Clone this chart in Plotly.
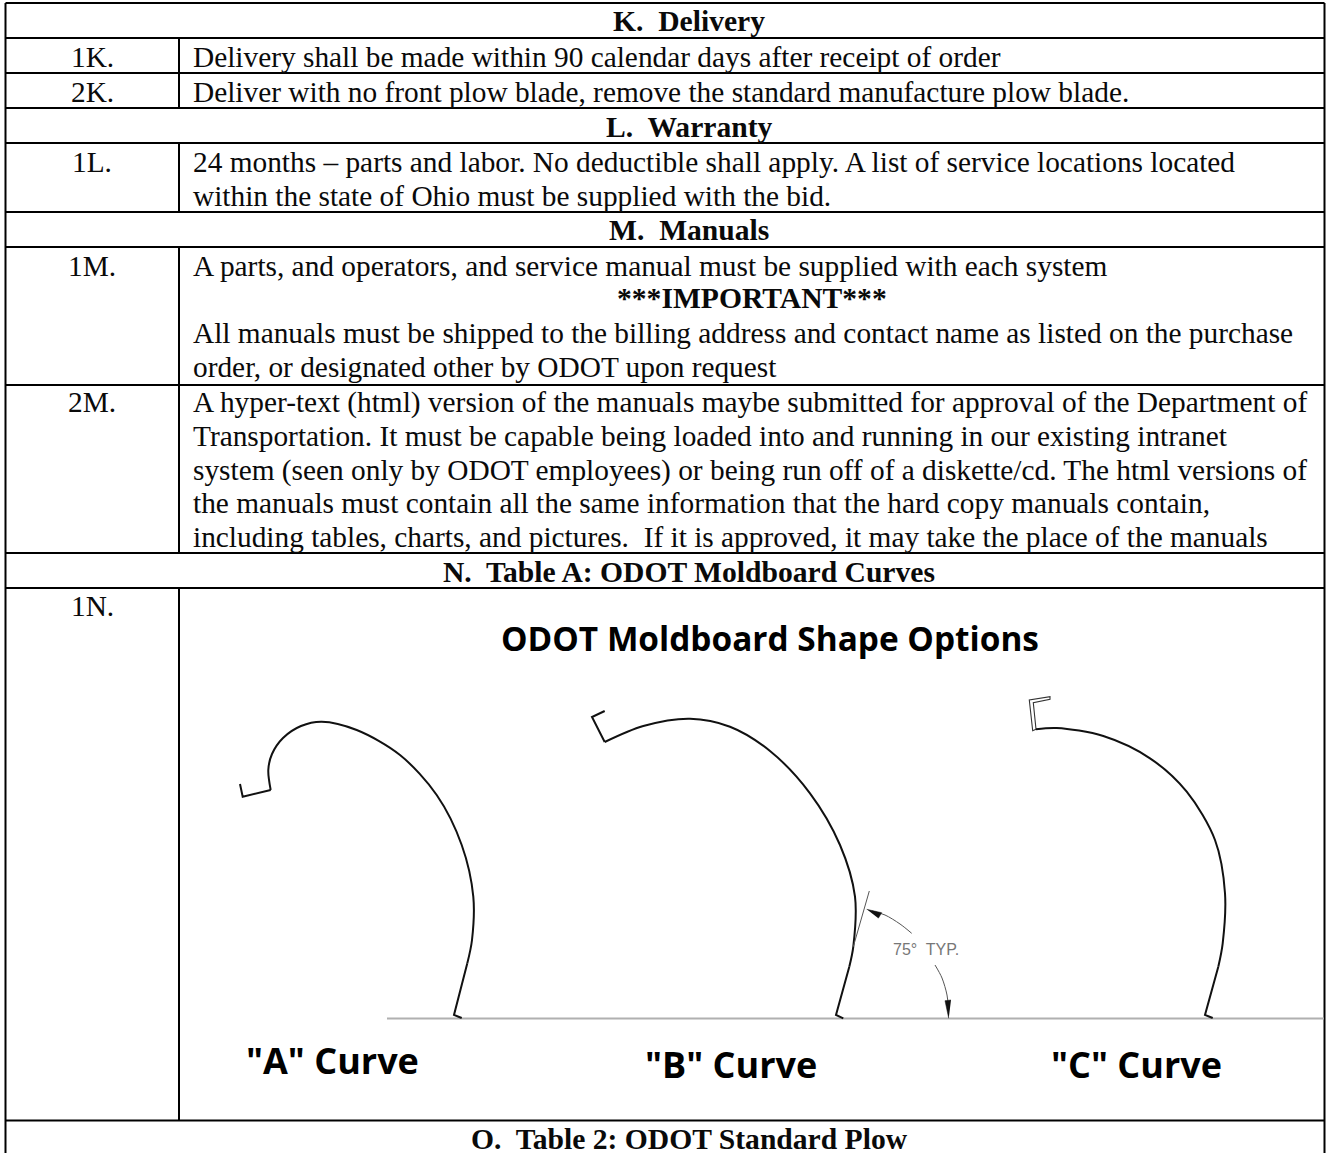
import plotly.graph_objects as go

# ---- table text -------------------------------------------------------
heading_texts = ["K.  Delivery", "L.  Warranty", "M.  Manuals",
                 "N.  Table A: ODOT Moldboard Curves", "O.  Table 2: ODOT Standard Plow"]
heading_y = [21, 127, 230, 572, 1139]

number_texts = ["1K.", "2K.", "1L.", "1M.", "2M.", "1N."]
number_y = [57, 92, 162, 266, 402, 606]

body_texts = [
    "Delivery shall be made within 90 calendar days after receipt of order",
    "Deliver with no front plow blade, remove the standard manufacture plow blade.",
    "24 months \u2013 parts and labor. No deductible shall apply. A list of service locations located",
    "within the state of Ohio must be supplied with the bid.",
    "A parts, and operators, and service manual must be supplied with each system",
    "All manuals must be shipped to the billing address and contact name as listed on the purchase",
    "order, or designated other by ODOT upon request",
    "A hyper-text (html) version of the manuals maybe submitted for approval of the Department of",
    "Transportation. It must be capable being loaded into and running in our existing intranet",
    "system (seen only by ODOT employees) or being run off of a diskette/cd. The html versions of",
    "the manuals must contain all the same information that the hard copy manuals contain,",
    "including tables, charts, and pictures.  If it is approved, it may take the place of the manuals",
]
body_y = [57, 92, 162, 196, 266, 333, 367, 402, 436, 470, 503, 537]
important_text = "***IMPORTANT***"

# ---- table rules ------------------------------------------------------
h_rule_y = [3, 38, 73, 108, 143, 212, 247, 385, 553, 588, 1120.5]
col_rule_spans = [(38, 108), (143, 212), (247, 553), (588, 1120.5)]
left_edge, col_edge, right_edge, bottom = 5.5, 179, 1324.5, 1153

# ---- moldboard drawing -------------------------------------------------
title_text = "ODOT Moldboard Shape Options"
curve_labels = ['"A" Curve', '"B" Curve', '"C" Curve']
curve_label_x = [245, 644, 1050]
curve_label_y = [1060, 1064, 1064]

a_hook_x = [240, 242.7, 270.7]
a_hook_y = [784, 796.7, 790]
a_curve_x = [270.7, 268.3, 272, 283, 301, 321.7, 356.7, 400, 436.7, 461.7, 473.3, 472, 467.3]
a_curve_y = [790, 770, 754, 738, 726, 721.7, 730, 755, 795, 845, 896.7, 940, 963.3]
a_foot_x = [467.3, 454, 461.7]
a_foot_y = [963.3, 1015, 1018]

b_hook_x = [604.7, 592, 604.7]
b_hook_y = [711, 717, 742]
b_curve_x = [604.7, 643.3, 690, 730, 770, 810, 840, 855, 853.3, 849.3]
b_curve_y = [742, 726, 718.7, 726.7, 751, 793.3, 845, 896.7, 946.7, 966.7]
b_foot_x = [849.3, 836, 843.3]
b_foot_y = [966.7, 1015, 1018.3]

c_hook_x = [1036, 1033.3, 1050, 1050, 1029.3, 1032.7, 1036]
c_hook_y = [729.3, 702.7, 699.3, 696.7, 700, 730.7, 729.3]
c_curve_x = [1036, 1056.7, 1103.3, 1150, 1186.7, 1215, 1225, 1222.7, 1218.3]
c_curve_y = [729.3, 728, 736, 758.3, 791.7, 840, 893.3, 943.3, 966.7]
c_foot_x = [1218.3, 1205, 1212.7]
c_foot_y = [966.7, 1015, 1018]

ground_x = [387, 1324]
ground_y = [1018.5, 1018.5]

tangent_x = [869.3, 853.3]
tangent_y = [891, 946.7]
leader1_x = [911.7, 900, 885, 872]
leader1_y = [933.3, 924, 915, 911]
leader2_x = [935, 942, 947, 948.7]
leader2_y = [965, 978, 995, 1010]
head1_x = [866.7, 881.7, 878.3]
head1_y = [909.3, 912.7, 918.3]
head2_x = [948.7, 945, 951]
head2_y = [1018.3, 1000.7, 1000]
dim_text = "75\u00b0  TYP."

SERIF = "Liberation Serif"
SANS = "Open Sans"
TEXT = "#0a0a0a"
BODY_SIZE = 29.35
BOLD_SIZE = 29.6

fig = go.Figure()


def line(x, y, color="#000000", width=2.0, spline=False):
    fig.add_trace(go.Scatter(
        x=x, y=y, mode="lines", hoverinfo="skip",
        line=dict(color=color, width=width, shape="spline" if spline else "linear",
                  smoothing=0.9 if spline else None)))


for yv in h_rule_y:
    line([left_edge, right_edge], [yv, yv], "#000000", 2)
line([left_edge, left_edge], [h_rule_y[0], bottom], "#000000", 2)
line([right_edge, right_edge], [h_rule_y[0], bottom], "#000000", 2)
for a, b in col_rule_spans:
    line([col_edge, col_edge], [a, b], "#000000", 2)

line(ground_x, ground_y, "#b0b0b0", 2)
for hx, hy, cx, cy, fx, fy in [
    (a_hook_x, a_hook_y, a_curve_x, a_curve_y, a_foot_x, a_foot_y),
    (b_hook_x, b_hook_y, b_curve_x, b_curve_y, b_foot_x, b_foot_y),
]:
    line(hx, hy, "#111111", 2)
    line(cx, cy, "#111111", 2, spline=True)
    line(fx, fy, "#111111", 2)
line(c_hook_x, c_hook_y, "#333333", 1.1)
line(c_curve_x, c_curve_y, "#111111", 2, spline=True)
line(c_foot_x, c_foot_y, "#111111", 2)

line(tangent_x, tangent_y, "#555555", 1)
line(leader1_x, leader1_y, "#555555", 1, spline=True)
line(leader2_x, leader2_y, "#555555", 1, spline=True)
for hx, hy in [(head1_x, head1_y), (head2_x, head2_y)]:
    fig.add_trace(go.Scatter(x=hx, y=hy, mode="lines", fill="toself", fillcolor="#111111",
                             line=dict(color="#111111", width=0.5), hoverinfo="skip"))

annotations = []


def note(x, y, text, size, family=SERIF, anchor="left", bold=False, color=TEXT):
    annotations.append(dict(
        x=x, y=y, xref="x", yref="y", text=f"<b>{text}</b>" if bold else text,
        showarrow=False, xanchor=anchor, yanchor="middle", align=anchor,
        borderpad=0, font=dict(family=family, size=size, color=color)))


for t, yv in zip(heading_texts, heading_y):
    note(689, yv, t, BOLD_SIZE, anchor="center", bold=True)
for t, yv in zip(number_texts, number_y):
    note(92, yv, t, BODY_SIZE, anchor="center")
for t, yv in zip(body_texts, body_y):
    note(192, yv, t, BODY_SIZE)
note(751.5, 298, important_text, BOLD_SIZE, anchor="center", bold=True)
note(769.5, 638, title_text, 33.4, family=SANS, anchor="center", bold=True, color="#000000")
for t, xv, yv in zip(curve_labels, curve_label_x, curve_label_y):
    note(xv, yv, t, 36, family=SANS, bold=True, color="#000000")
note(926, 949, dim_text, 16, family="Liberation Sans", anchor="center", color="#777777")

fig.update_layout(
    width=1326, height=1153, margin=dict(l=0, r=0, t=0, b=0),
    paper_bgcolor="#ffffff", plot_bgcolor="#ffffff", showlegend=False,
    xaxis=dict(range=[0, 1326], visible=False, fixedrange=True),
    yaxis=dict(range=[1153, 0], visible=False, fixedrange=True),
    annotations=annotations,
)
fig.write_html("out.html", config={"displayModeBar": False},
               post_script="document.body.style.margin='0';document.body.style.overflow='hidden';")
